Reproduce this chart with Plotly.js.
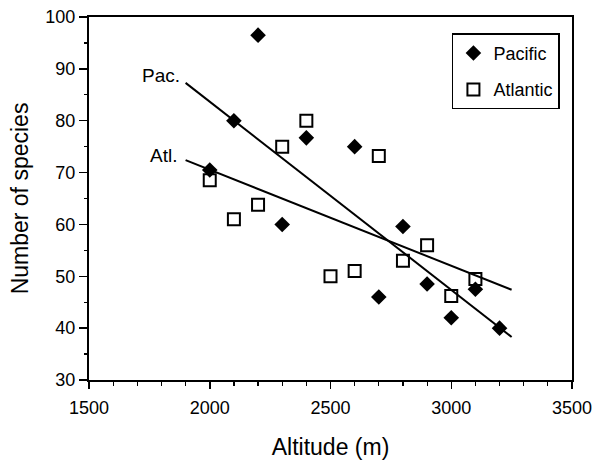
<!DOCTYPE html>
<html>
<head>
<meta charset="utf-8">
<script src="https://cdn.plot.ly/plotly-3.0.1.min.js"></script>
<style>html,body{margin:0;padding:0;background:#fff;}#chart{width:593px;height:463px;}</style>
</head>
<body>
<div id="chart"></div>
<script>
// Data
var pacAlt = [2000, 2100, 2200, 2300, 2400, 2600, 2700, 2800, 2900, 3000, 3100, 3200];
var pacSpecies = [70.5, 80, 96.5, 60, 76.7, 75, 46, 59.6, 48.5, 42, 47.5, 40];
var atlAlt = [2000, 2100, 2200, 2300, 2400, 2500, 2600, 2700, 2800, 2900, 3000, 3100];
var atlSpecies = [68.5, 61, 63.8, 75, 80, 50, 51, 73.2, 53, 56, 46.2, 49.5];
// Fitted lines (end points)
var pacLineX = [1900, 3250];
var pacLineY = [87.3, 38.3];
var atlLineX = [1900, 3250];
var atlLineY = [72.4, 47.4];
var xTickVals = [1500, 2000, 2500, 3000, 3500];
var yTickVals = [30, 40, 50, 60, 70, 80, 90, 100];

var FONT = 'Liberation Sans, Arial, sans-serif';

var traces = [
  {x: pacLineX, y: pacLineY, mode: 'lines', line: {color: '#000', width: 2}, showlegend: false, hoverinfo: 'skip'},
  {x: atlLineX, y: atlLineY, mode: 'lines', line: {color: '#000', width: 2}, showlegend: false, hoverinfo: 'skip'},
  {x: pacAlt, y: pacSpecies, mode: 'markers', name: 'Pacific', legendgroup: 'p',
   marker: {symbol: 'diamond', size: 12, color: '#000', line: {width: 0}}},
  {x: atlAlt, y: atlSpecies, mode: 'markers', name: 'Atlantic', legendgroup: 'a',
   marker: {symbol: 'square-open', size: 12, color: '#000', line: {width: 2, color: '#000'}}}
];

var layout = {
  width: 593, height: 463,
  margin: {l: 89, r: 21, t: 17, b: 83},
  paper_bgcolor: '#fff', plot_bgcolor: '#fff',
  font: {family: FONT, color: '#000', size: 16},
  showlegend: true,
  legend: {x: 0.975, y: 0.955, xanchor: 'right', yanchor: 'top',
    bordercolor: '#000', borderwidth: 1.5, bgcolor: '#fff',
    font: {family: FONT, size: 18, color: '#000'}, tracegroupgap: 10},
  xaxis: {
    range: [1500, 3500], tickvals: xTickVals, ticktext: xTickVals.map(String),
    ticks: 'outside', ticklen: 7, tickwidth: 1.5, tickcolor: '#000',
    minor: {dtick: 100, ticks: 'outside', ticklen: 4, tickwidth: 1.2, tickcolor: '#000'},
    showline: true, linecolor: '#000', linewidth: 2, mirror: true,
    showgrid: false, zeroline: false, ticklabelstandoff: 3, ticklabeloverflow: 'allow',
    tickfont: {family: FONT, size: 18, color: '#000'},
    title: {text: 'Altitude (m)', font: {family: FONT, size: 23, color: '#000'}, standoff: 22}
  },
  yaxis: {
    range: [30, 100], tickvals: yTickVals, ticktext: yTickVals.map(String),
    ticks: 'outside', ticklen: 8, tickwidth: 1.5, tickcolor: '#000',
    minor: {dtick: 5, ticks: 'outside', ticklen: 3, tickwidth: 1.2, tickcolor: '#000'},
    showline: true, linecolor: '#000', linewidth: 2, mirror: true,
    showgrid: false, zeroline: false, ticklabeloverflow: 'allow',
    tickfont: {family: FONT, size: 18, color: '#000'},
    title: {text: 'Number of species', font: {family: FONT, size: 23, color: '#000'}, standoff: 10}
  },
  annotations: [
    {x: 1885, y: 88.8, xref: 'x', yref: 'y', text: 'Pac.', showarrow: false, xanchor: 'right', yanchor: 'middle',
     font: {family: FONT, size: 19, color: '#000'}},
    {x: 1872, y: 73.3, xref: 'x', yref: 'y', text: 'Atl.', showarrow: false, xanchor: 'right', yanchor: 'middle',
     font: {family: FONT, size: 19, color: '#000'}}
  ]
};

Plotly.newPlot('chart', traces, layout, {displayModeBar: false, staticPlot: true});
</script>
</body>
</html>
